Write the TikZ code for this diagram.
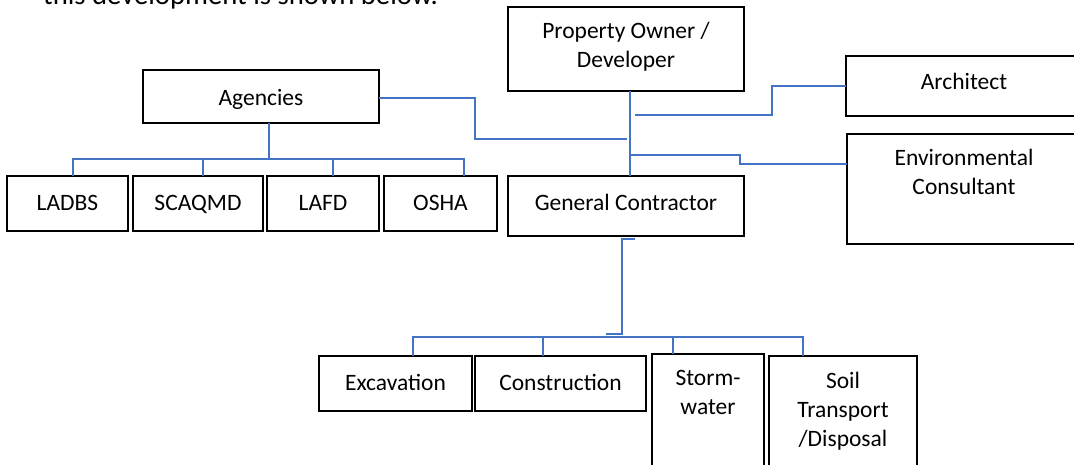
\documentclass[tikz,border=0pt]{standalone}
\usepackage{fontspec}
\setmainfont{Carlito}
\usetikzlibrary{calc}
\definecolor{conn}{HTML}{4472C4}
\begin{document}
\begin{tikzpicture}[x=1pt,y=-1pt,
  box/.style={draw=black,line width=1.6pt,inner sep=0pt,outer sep=0pt,rectangle},
  lbl/.style={inner sep=0pt,align=center,font=\fontsize{23.5}{29}\selectfont,
    execute at begin node=\strut,execute at end node=\strut},
  wire/.style={draw=conn,line width=1.1pt}]
\clip (0,0) rectangle (1074,464);
\useasboundingbox (0,0) rectangle (1074,464);
\fill[white] (0,0) rectangle (1074,464);
% cut-off text line at top
\node[anchor=base west,inner sep=0pt,font=\fontsize{28.7}{34}\selectfont] (intro) at (43,4.5) {this development is shown below.};
% boxes
\node[box,minimum width=236pt,minimum height=53pt] (agencies) at (261,96.5) {};
\node[box,minimum width=121pt,minimum height=55pt] (ladbs) at (67.5,203.5) {};
\node[box,minimum width=130pt,minimum height=55pt] (scaqmd) at (198,203.5) {};
\node[box,minimum width=112pt,minimum height=55pt] (lafd) at (323,203.5) {};
\node[box,minimum width=113pt,minimum height=55pt] (osha) at (440.5,203.5) {};
\node[box,minimum width=236pt,minimum height=84pt] (pod) at (626,49) {};
\node[box,minimum width=236pt,minimum height=60pt] (gc) at (626,206) {};
\node[box,minimum width=236pt,minimum height=60pt] (arch) at (964,86) {};
\node[box,minimum width=235pt,minimum height=110pt] (env) at (964.5,189) {};
\node[box,minimum width=153pt,minimum height=55pt] (exc) at (395.5,383.5) {};
\node[box,minimum width=171pt,minimum height=55pt] (cons) at (560.5,383.5) {};
\node[box,minimum width=112pt,minimum height=136pt] (storm) at (708,422) {};
\node[box,minimum width=148pt,minimum height=134pt] (soil) at (843,423) {};
% texts (centre = first baseline - 20.3 + lines*14.5)
\node[lbl] (agencies-t) at (261,99.2) {Agencies};
\node[lbl] (ladbs-t) at (67.5,204.2) {LADBS};
\node[lbl] (scaqmd-t) at (198,204.2) {SCAQMD};
\node[lbl] (lafd-t) at (323,204.2) {LAFD};
\node[lbl] (osha-t) at (440.5,204.2) {OSHA};
\node[lbl] (pod-t) at (626,48.7) {Property Owner /\\Developer};
\node[lbl] (gc-t) at (626,204.2) {General Contractor};
\node[lbl] (arch-t) at (964,83.2) {Architect};
\node[lbl] (env-t) at (964,175.7) {Environmental\\Consultant};
\node[lbl] (exc-t) at (395.5,385) {Excavation};
\node[lbl] (cons-t) at (560.5,385) {Construction};
\node[lbl] (storm-t) at (708,396.7) {Storm-\\water};
\node[lbl] (soil-t) at (843,413.2) {Soil\\Transport\\/Disposal};
% junction coordinates
\coordinate (jA) at (627,139);
\coordinate (jB) at (635,115);
\coordinate (jC) at (631,155);
\coordinate (stub) at (606,334);
% main stem
\draw[wire] ($(pod.south)+(4,0)$) -- ($(gc.north)+(4,0)$);
% agencies to stem
\draw[wire] ($(agencies.east)+(0,1.5)$) -- (475,98) -- (475,139) -- (jA);
% stem to architect
\draw[wire] (jB) -- (772,115) |- (arch.west);
% stem to environmental consultant
\draw[wire] (jC) -- (740,155) -- (740,164) -- (env.west |- 740,164);
% agencies bus
\draw[wire] (agencies.south -| 269,0) -- (269,159);
\draw[wire] (ladbs.north -| 73,0) -- (73,159) -- (464,159) -- (osha.north -| 464,0);
\draw[wire] (203,159) -- (scaqmd.north -| 203,0);
\draw[wire] (333,159) -- (lafd.north -| 333,0);
% general contractor down
\draw[wire] ($(gc.south)+(9,3)$) -- (622,239) -- (622,334) -- (stub);
\draw[wire] (exc.north -| 413,0) -- (413,337) -- (803,337) -- (soil.north -| 803,0);
\draw[wire] (543,337) -- (cons.north -| 543,0);
\draw[wire] (673,337) -- (storm.north -| 673,0);
\end{tikzpicture}
\end{document}
